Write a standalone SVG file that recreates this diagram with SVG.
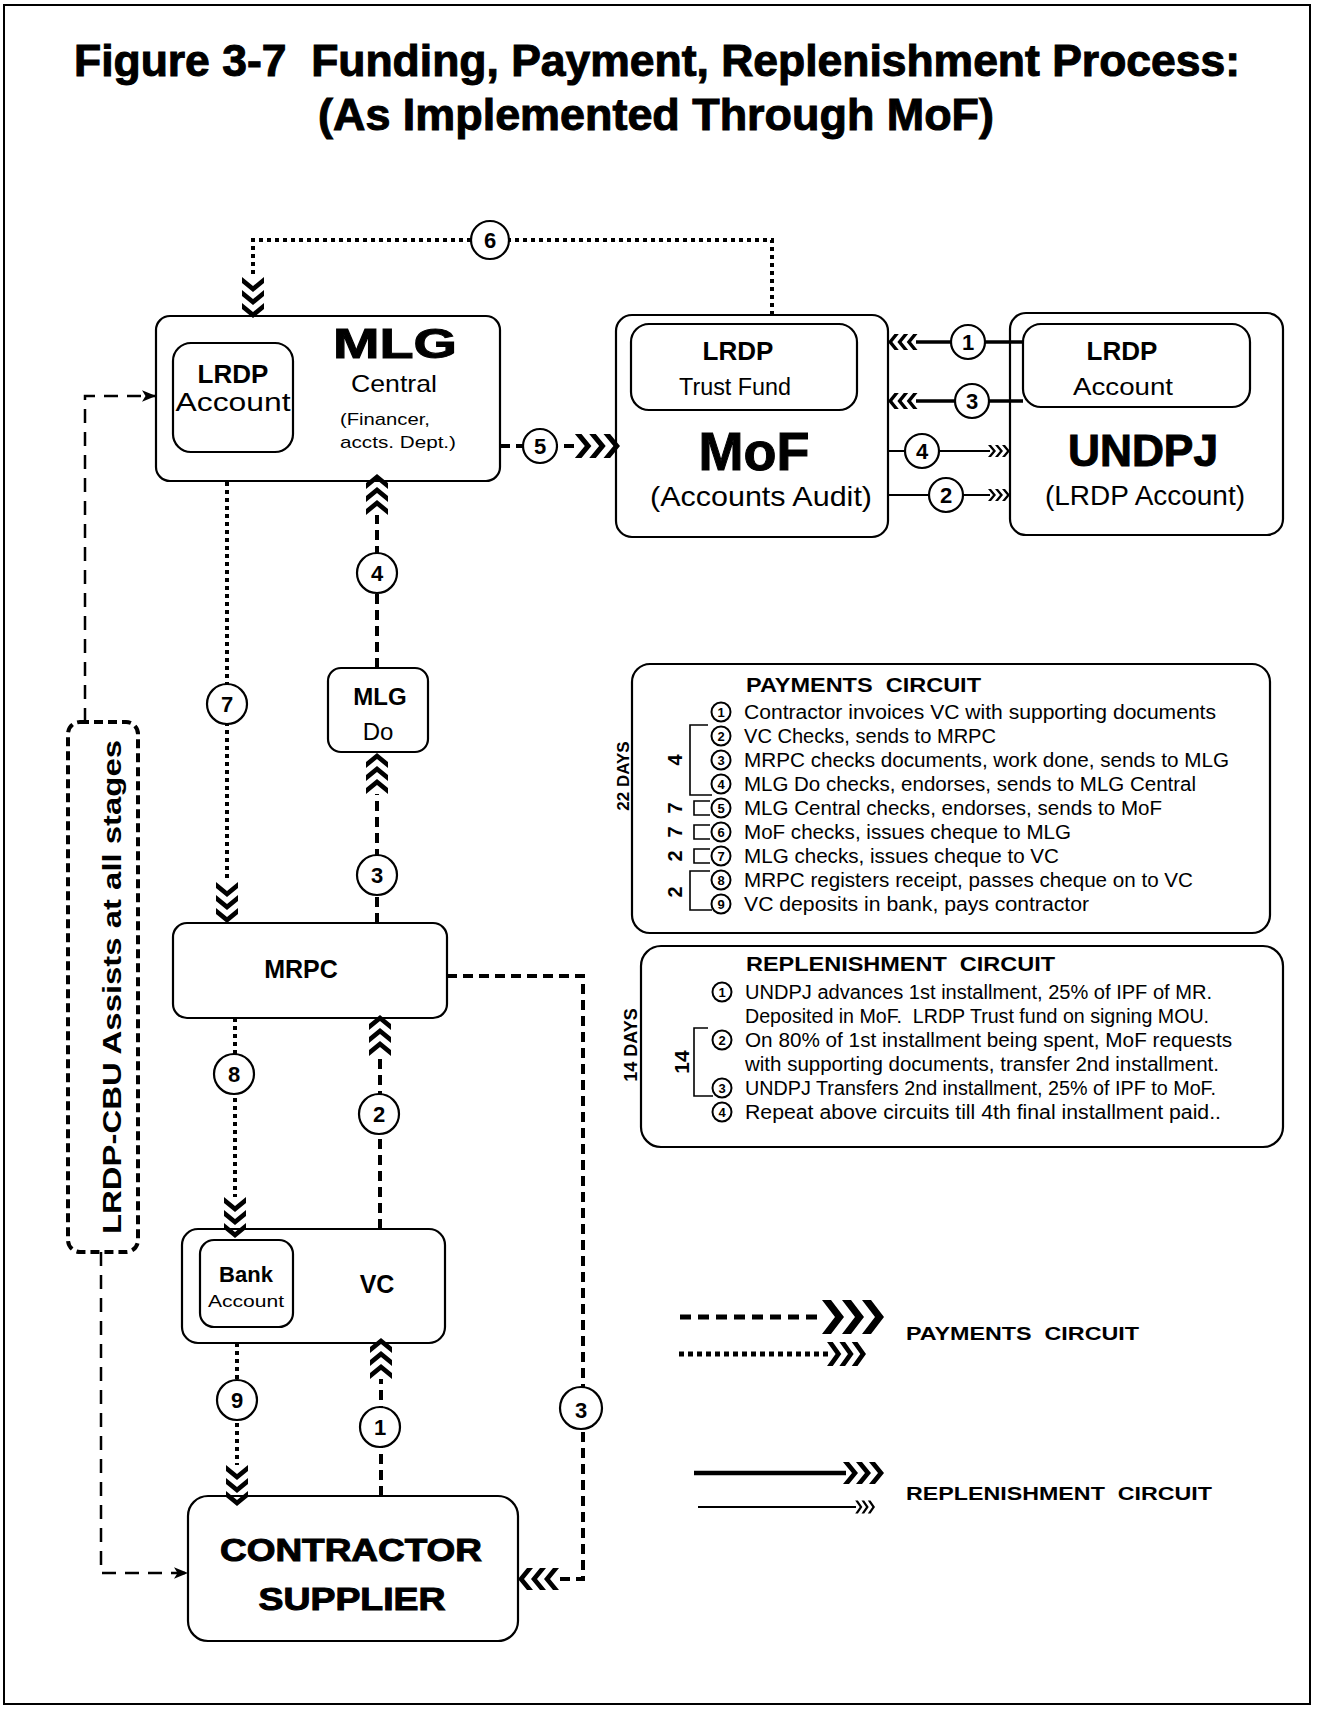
<svg xmlns="http://www.w3.org/2000/svg" xmlns:xlink="http://www.w3.org/1999/xlink" width="1327" height="1712" viewBox="0 0 1327 1712">
<style>
text { font-family: "Liberation Sans", Arial, sans-serif; fill: #000; }
.b { font-weight: bold; }
.hv { font-weight: bold; stroke: #000; stroke-width: 1; }
.m { text-anchor: middle; }
.box { fill: #fff; stroke: #000; stroke-width: 2.2; }
.dash { fill: none; stroke: #000; stroke-width: 4; stroke-dasharray: 10 6; }
.dot { fill: none; stroke: #000; stroke-width: 4; stroke-dasharray: 4 4; }
.assist { fill: none; stroke: #000; stroke-width: 2.5; stroke-dasharray: 14 9; }
.repT { fill: none; stroke: #000; stroke-width: 3.5; }
.rept { fill: none; stroke: #000; stroke-width: 1.8; }
.num { fill: #fff; stroke: #000; stroke-width: 2.2; }
.numt { font-weight: bold; font-size: 22px; text-anchor: middle; }
.sn { fill: #fff; stroke: #000; stroke-width: 2; }
.snt { font-weight: bold; font-size: 13px; text-anchor: middle; }
.li { font-size: 19.5px; }
.br { fill: none; stroke: #000; stroke-width: 1.6; }
</style>
<defs>
<g id="chevS">
<polygon points="-15,-11 -9,-11 0,0 -9,11 -15,11 -6,0"/>
<polygon points="-28,-11 -22,-11 -13,0 -22,11 -28,11 -19,0"/>
<polygon points="-41,-11 -35,-11 -26,0 -35,11 -41,11 -32,0"/>
</g>
<g id="chevL">
<polygon points="-22,-17 -13,-17 0,0 -13,17 -22,17 -9,0"/>
<polygon points="-42,-17 -33,-17 -20,0 -33,17 -42,17 -29,0"/>
<polygon points="-62,-17 -53,-17 -40,0 -53,17 -62,17 -49,0"/>
</g>
<g id="chevT">
<polygon points="-8,-6 -5,-6 0,0 -5,6 -8,6 -3,0"/>
<polygon points="-15,-6 -12,-6 -7,0 -12,6 -15,6 -10,0"/>
<polygon points="-22,-6 -19,-6 -14,0 -19,6 -22,6 -17,0"/>
</g>
<marker id="tri" viewBox="0 0 12 10" refX="12" refY="5" markerWidth="14" markerHeight="12" markerUnits="userSpaceOnUse" orient="auto">
<path d="M0,0 L12,5 L0,10 L3,5 z" fill="#000"/>
</marker>
</defs>

<rect x="4" y="5" width="1306" height="1699" fill="#fff" stroke="#000" stroke-width="2"/>

<g id="title">
<text x="74" y="76" font-size="44" class="hv" textLength="1166" lengthAdjust="spacingAndGlyphs">Figure 3-7&#160; Funding, Payment, Replenishment Process:</text>
<text x="318" y="130" font-size="44" class="hv" textLength="676" lengthAdjust="spacingAndGlyphs">(As Implemented Through MoF)</text>
</g>

<g id="node-mlg-central">
<rect class="box" x="156" y="316" width="344" height="165" rx="14"/>
<rect class="box" x="173" y="343" width="120" height="109" rx="18"/>
<text x="233" y="383" font-size="26" class="b m">LRDP</text>
<text x="233" y="411" font-size="26" class="m" textLength="115" lengthAdjust="spacingAndGlyphs">Account</text>
<text x="333" y="358" font-size="42" class="hv" textLength="124" lengthAdjust="spacingAndGlyphs">MLG</text>
<text x="394" y="392" font-size="24" class="m" textLength="86" lengthAdjust="spacingAndGlyphs">Central</text>
<text x="340" y="425" font-size="17" textLength="90" lengthAdjust="spacingAndGlyphs">(Financer,</text>
<text x="340" y="448" font-size="17" textLength="116" lengthAdjust="spacingAndGlyphs">accts. Dept.)</text>
</g>

<g id="node-mof">
<rect class="box" x="616" y="315" width="272" height="222" rx="16"/>
<rect class="box" x="631" y="324" width="226" height="86" rx="18"/>
<text x="738" y="360" font-size="26" class="b m">LRDP</text>
<text x="735" y="395" font-size="23" class="m" textLength="112" lengthAdjust="spacingAndGlyphs">Trust Fund</text>
<text x="754" y="470" font-size="54" class="hv m">MoF</text>
<text x="761" y="506" font-size="28" class="m" textLength="222" lengthAdjust="spacingAndGlyphs">(Accounts Audit)</text>
</g>

<g id="node-undpj">
<rect class="box" x="1010" y="313" width="273" height="222" rx="16"/>
<rect class="box" x="1023" y="324" width="227" height="83" rx="18"/>
<text x="1122" y="360" font-size="26" class="b m">LRDP</text>
<text x="1123" y="395" font-size="24" class="m" textLength="100" lengthAdjust="spacingAndGlyphs">Account</text>
<text x="1143" y="466" font-size="44" class="hv m" textLength="150" lengthAdjust="spacingAndGlyphs">UNDPJ</text>
<text x="1145" y="505" font-size="27" class="m" textLength="200" lengthAdjust="spacingAndGlyphs">(LRDP Account)</text>
</g>

<g id="node-mlg-do">
<rect class="box" x="328" y="668" width="100" height="84" rx="13"/>
<text x="380" y="705" font-size="24" class="b m">MLG</text>
<text x="378" y="740" font-size="24" class="m">Do</text>
</g>

<g id="node-mrpc">
<rect class="box" x="173" y="923" width="274" height="95" rx="14"/>
<text x="301" y="978" font-size="25" class="b m">MRPC</text>
</g>

<g id="node-vc">
<rect class="box" x="182" y="1229" width="263" height="114" rx="16"/>
<rect class="box" x="200" y="1240" width="93" height="87" rx="14"/>
<text x="246" y="1282" font-size="22" class="b m">Bank</text>
<text x="246" y="1307" font-size="17" class="m" textLength="76" lengthAdjust="spacingAndGlyphs">Account</text>
<text x="377" y="1293" font-size="25" class="b m">VC</text>
</g>

<g id="node-contractor">
<rect class="box" x="188" y="1496" width="330" height="145" rx="20"/>
<text x="351" y="1561" font-size="31" class="hv m" textLength="262" lengthAdjust="spacingAndGlyphs">CONTRACTOR</text>
<text x="352" y="1610" font-size="31" class="hv m" textLength="187" lengthAdjust="spacingAndGlyphs">SUPPLIER</text>
</g>

<g id="node-lrdp-cbu">
<rect x="68" y="722" width="70" height="530" rx="12" fill="none" stroke="#000" stroke-width="4" stroke-dasharray="9 5"/>
<text x="121" y="987" font-size="26" class="b m" transform="rotate(-90 121 987)" textLength="494" lengthAdjust="spacingAndGlyphs">LRDP-CBU Assists at all stages</text>
</g>

<g id="connectors">
<!-- 6 -->
<path class="dot" d="M772,315 V240 H253 V277"/>
<use xlink:href="#chevS" transform="translate(253,318) rotate(90)"/>
<circle class="num" cx="490" cy="240" r="19"/><text class="numt" x="490" y="248">6</text>
<!-- 5 -->
<path class="dash" d="M500,446 H578"/>
<use xlink:href="#chevS" transform="translate(620,446) scale(1.1)"/>
<circle class="num" cx="540" cy="446" r="17"/><text class="numt" x="540" y="454">5</text>
<!-- replenishment 1,3,4,2 -->
<path class="repT" d="M1023,342 H916"/>
<use xlink:href="#chevS" transform="translate(888,342) rotate(180) scale(0.72)"/>
<circle class="num" cx="968" cy="342" r="17"/><text class="numt" x="968" y="350">1</text>
<path class="repT" d="M1023,401 H916"/>
<use xlink:href="#chevS" transform="translate(888,401) rotate(180) scale(0.72)"/>
<circle class="num" cx="972" cy="401" r="17"/><text class="numt" x="972" y="409">3</text>
<path class="rept" d="M888,451 H990"/>
<use xlink:href="#chevT" transform="translate(1010,451)"/>
<circle class="num" cx="922" cy="451" r="17"/><text class="numt" x="922" y="459">4</text>
<path class="rept" d="M888,495 H990"/>
<use xlink:href="#chevT" transform="translate(1010,495)"/>
<circle class="num" cx="946" cy="495" r="17"/><text class="numt" x="946" y="503">2</text>
<!-- 4 MLG Do -> MLG Central -->
<path class="dash" d="M377,668 V515"/>
<use xlink:href="#chevS" transform="translate(377,474) rotate(-90)"/>
<circle class="num" cx="377" cy="573" r="20"/><text class="numt" x="377" y="581">4</text>
<!-- 3 MRPC -> MLG Do -->
<path class="dash" d="M377,923 V794"/>
<use xlink:href="#chevS" transform="translate(377,753) rotate(-90)"/>
<circle class="num" cx="377" cy="875" r="20"/><text class="numt" x="377" y="883">3</text>
<!-- 7 MLG -> MRPC -->
<path class="dot" d="M227,482 V882"/>
<use xlink:href="#chevS" transform="translate(227,923) rotate(90)"/>
<circle class="num" cx="227" cy="704" r="20"/><text class="numt" x="227" y="712">7</text>
<!-- 3 MRPC -> Contractor -->
<path class="dash" d="M447,976 H583 V1579 H559"/>
<use xlink:href="#chevS" transform="translate(518,1579) rotate(180)"/>
<circle class="num" cx="581" cy="1408" r="21"/><text class="numt" x="581" y="1418" font-size="27">3</text>
<!-- 8 MRPC -> VC -->
<path class="dot" d="M235,1018 V1197"/>
<use xlink:href="#chevS" transform="translate(235,1238) rotate(90)"/>
<circle class="num" cx="234" cy="1074" r="20"/><text class="numt" x="234" y="1082">8</text>
<!-- 2 VC -> MRPC -->
<path class="dash" d="M380,1229 V1056"/>
<use xlink:href="#chevS" transform="translate(380,1015) rotate(-90)"/>
<circle class="num" cx="379" cy="1114" r="20"/><text class="numt" x="379" y="1122">2</text>
<!-- 9 VC -> Contractor -->
<path class="dot" d="M237,1343 V1465"/>
<use xlink:href="#chevS" transform="translate(237,1506) rotate(90)"/>
<circle class="num" cx="237" cy="1400" r="20"/><text class="numt" x="237" y="1408">9</text>
<!-- 1 Contractor -> VC -->
<path class="dash" d="M381,1496 V1379"/>
<use xlink:href="#chevS" transform="translate(381,1338) rotate(-90)"/>
<circle class="num" cx="380" cy="1427" r="20"/><text class="numt" x="380" y="1435">1</text>
<!-- LRDP-CBU assists -->
<path class="assist" d="M85,722 V396 H156" marker-end="url(#tri)"/>
<path class="assist" d="M101,1252 V1573 H188" marker-end="url(#tri)"/>
</g>

<g id="payments-circuit">
<rect class="box" x="632" y="664" width="638" height="269" rx="18"/>
<text x="629" y="776" font-size="17" class="b m" transform="rotate(-90 629 776)">22 DAYS</text>
<text x="746" y="692" font-size="20" class="b" textLength="235" lengthAdjust="spacingAndGlyphs">PAYMENTS&#160; CIRCUIT</text>
<path class="br" d="M708,725 H690 V795 H712"/>
<path class="br" d="M710,801 H694 V815 H710"/>
<path class="br" d="M710,825 H694 V839 H710"/>
<path class="br" d="M710,849 H694 V863 H710"/>
<path class="br" d="M710,871 H690 V910 H712"/>
<text x="682" y="760" font-size="20" class="b m" transform="rotate(-90 682 760)">4</text>
<text x="682" y="808" font-size="20" class="b m" transform="rotate(-90 682 808)">7</text>
<text x="682" y="832" font-size="20" class="b m" transform="rotate(-90 682 832)">7</text>
<text x="682" y="856" font-size="20" class="b m" transform="rotate(-90 682 856)">2</text>
<text x="682" y="892" font-size="20" class="b m" transform="rotate(-90 682 892)">2</text>
<circle class="sn" cx="721" cy="712" r="9.5"/><text class="snt" x="721" y="717">1</text>
<circle class="sn" cx="721" cy="736" r="9.5"/><text class="snt" x="721" y="741">2</text>
<circle class="sn" cx="721" cy="760" r="9.5"/><text class="snt" x="721" y="765">3</text>
<circle class="sn" cx="721" cy="784" r="9.5"/><text class="snt" x="721" y="789">4</text>
<circle class="sn" cx="721" cy="808" r="9.5"/><text class="snt" x="721" y="813">5</text>
<circle class="sn" cx="721" cy="832" r="9.5"/><text class="snt" x="721" y="837">6</text>
<circle class="sn" cx="721" cy="856" r="9.5"/><text class="snt" x="721" y="861">7</text>
<circle class="sn" cx="721" cy="880" r="9.5"/><text class="snt" x="721" y="885">8</text>
<circle class="sn" cx="721" cy="904" r="9.5"/><text class="snt" x="721" y="909">9</text>
<text class="li" x="744" y="719" textLength="472" lengthAdjust="spacingAndGlyphs">Contractor invoices VC with supporting documents</text>
<text class="li" x="744" y="743" textLength="252" lengthAdjust="spacingAndGlyphs">VC Checks, sends to MRPC</text>
<text class="li" x="744" y="767" textLength="485" lengthAdjust="spacingAndGlyphs">MRPC checks documents, work done, sends to MLG</text>
<text class="li" x="744" y="791" textLength="452" lengthAdjust="spacingAndGlyphs">MLG Do checks, endorses, sends to MLG Central</text>
<text class="li" x="744" y="815" textLength="418" lengthAdjust="spacingAndGlyphs">MLG Central checks, endorses, sends to MoF</text>
<text class="li" x="744" y="839" textLength="327" lengthAdjust="spacingAndGlyphs">MoF checks, issues cheque to MLG</text>
<text class="li" x="744" y="863" textLength="315" lengthAdjust="spacingAndGlyphs">MLG checks, issues cheque to VC</text>
<text class="li" x="744" y="887" textLength="449" lengthAdjust="spacingAndGlyphs">MRPC registers receipt, passes cheque on to VC</text>
<text class="li" x="744" y="911" textLength="345" lengthAdjust="spacingAndGlyphs">VC deposits in bank, pays contractor</text>
</g>

<g id="replenishment-circuit">
<rect class="box" x="641" y="946" width="642" height="201" rx="20"/>
<text x="637" y="1045" font-size="18" class="b m" transform="rotate(-90 637 1045)">14 DAYS</text>
<text x="746" y="971" font-size="20" class="b" textLength="309" lengthAdjust="spacingAndGlyphs">REPLENISHMENT&#160; CIRCUIT</text>
<path class="br" d="M708,1028 H694 V1096 H713"/>
<text x="689" y="1062" font-size="21" class="b m" transform="rotate(-90 689 1062)">14</text>
<circle class="sn" cx="722" cy="992" r="9.5"/><text class="snt" x="722" y="997">1</text>
<circle class="sn" cx="722" cy="1040" r="9.5"/><text class="snt" x="722" y="1045">2</text>
<circle class="sn" cx="722" cy="1088" r="9.5"/><text class="snt" x="722" y="1093">3</text>
<circle class="sn" cx="722" cy="1112" r="9.5"/><text class="snt" x="722" y="1117">4</text>
<text class="li" x="745" y="999" textLength="467" lengthAdjust="spacingAndGlyphs">UNDPJ advances 1st installment, 25% of IPF of MR.</text>
<text class="li" x="745" y="1023" textLength="464" lengthAdjust="spacingAndGlyphs">Deposited in MoF.&#160; LRDP Trust fund on signing MOU.</text>
<text class="li" x="745" y="1047" textLength="487" lengthAdjust="spacingAndGlyphs">On 80% of 1st installment being spent, MoF requests</text>
<text class="li" x="745" y="1071" textLength="474" lengthAdjust="spacingAndGlyphs">with supporting documents, transfer 2nd installment.</text>
<text class="li" x="745" y="1095" textLength="471" lengthAdjust="spacingAndGlyphs">UNDPJ Transfers 2nd installment, 25% of IPF to MoF.</text>
<text class="li" x="745" y="1119" textLength="476" lengthAdjust="spacingAndGlyphs">Repeat above circuits till 4th final installment paid..</text>
</g>

<g id="legend">
<path d="M680,1317 H823" fill="none" stroke="#000" stroke-width="5" stroke-dasharray="11 7"/>
<use xlink:href="#chevL" transform="translate(884,1317)"/>
<path d="M679,1354 H828" fill="none" stroke="#000" stroke-width="5" stroke-dasharray="5 4"/>
<use xlink:href="#chevS" transform="translate(866,1354) scale(0.95,1.1)"/>
<text x="906" y="1340" font-size="19" class="b" textLength="233" lengthAdjust="spacingAndGlyphs">PAYMENTS&#160; CIRCUIT</text>
<path d="M694,1473 H846" fill="none" stroke="#000" stroke-width="4.5"/>
<use xlink:href="#chevS" transform="translate(884,1473)"/>
<path d="M698,1507 H856" fill="none" stroke="#000" stroke-width="2"/>
<use xlink:href="#chevT" transform="translate(875,1507) scale(0.9,1.1)"/>
<text x="906" y="1500" font-size="19" class="b" textLength="306" lengthAdjust="spacingAndGlyphs">REPLENISHMENT&#160; CIRCUIT</text>
</g>
</svg>
